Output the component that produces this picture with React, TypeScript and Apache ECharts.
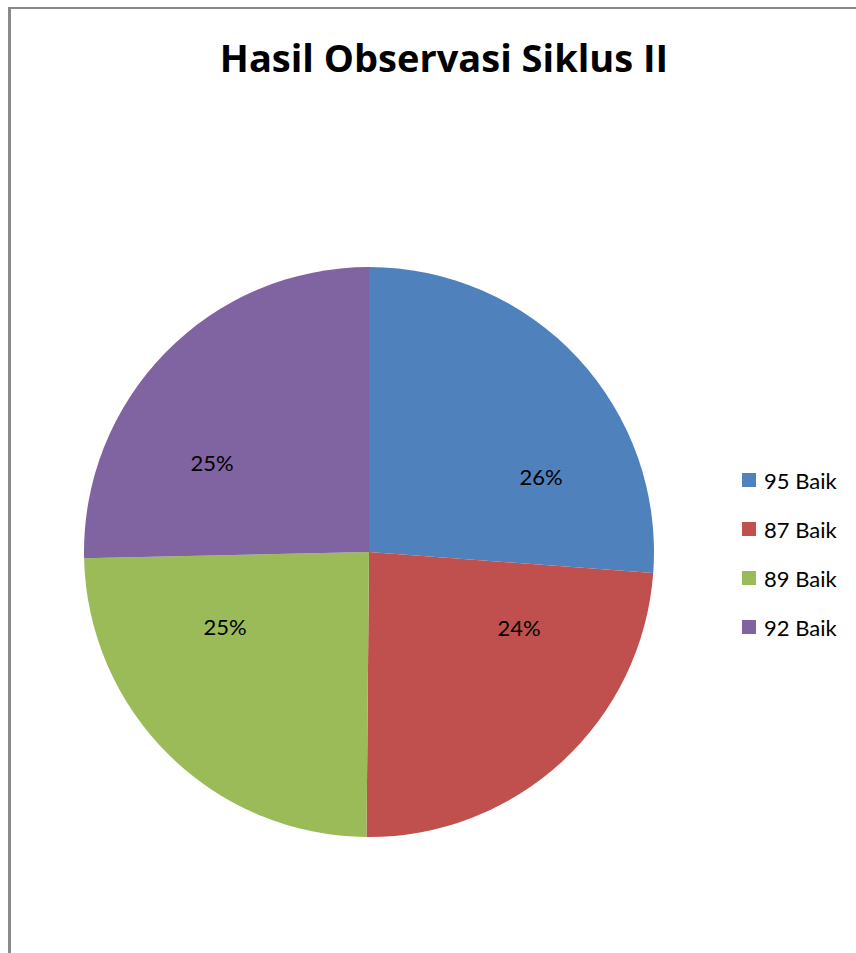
import React, { useEffect, useRef } from "react";
import * as echarts from "echarts";

const categories = ["95 Baik", "87 Baik", "89 Baik", "92 Baik"];
const values = [95, 87, 89, 92];
const colors = ["#4F81BD", "#C0504D", "#9BBB59", "#8064A2"];

// label anchor offsets from the pie centre (layout only)
const CENTER = [369, 552];
const RADIUS = 285;
const LABEL_OFFSETS = [
  [172, -76],
  [150, 75],
  [-144, 74],
  [-157, -90],
];

export default function App() {
  const ref = useRef<HTMLDivElement>(null);
  useEffect(() => {
    if (!ref.current) return;
    const chart = echarts.init(ref.current, undefined, { renderer: "svg" });
    chart.setOption({
      animation: false,
      backgroundColor: "transparent",
      title: {
        text: "Hasil Observasi Siklus II",
        left: 439,
        textAlign: "center",
        top: 33,
        textStyle: {
          fontFamily: "Open Sans",
          fontWeight: "bold",
          fontSize: 38,
          color: "#000",
        },
      },
      legend: {
        orient: "vertical",
        left: 742,
        top: 469,
        padding: 0,
        icon: "rect",
        itemWidth: 14,
        itemHeight: 14,
        itemGap: 27,
        data: categories,
        textStyle: {
          fontFamily: "Lato",
          fontSize: 22,
          lineHeight: 22,
          color: "#000",
          padding: [0, 0, 0, 3],
        },
      },
      series: [
        {
          type: "pie",
          center: CENTER,
          radius: RADIUS,
          startAngle: 90,
          clockwise: true,
          avoidLabelOverlap: false,
          data: categories.map((name, i) => ({
            name,
            value: values[i],
            itemStyle: { color: colors[i] },
          })),
          label: {
            show: true,
            position: "inside",
            formatter: (p: any) => Math.round(p.percent) + "%",
            fontFamily: "Lato",
            fontSize: 22,
            color: "#000",
          },
          labelLine: { show: false },
          labelLayout: (p: any) => ({
            x: CENTER[0] + LABEL_OFFSETS[p.dataIndex][0],
            y: CENTER[1] + LABEL_OFFSETS[p.dataIndex][1],
            align: "center",
            verticalAlign: "middle",
          }),
          emphasis: { disabled: true },
        },
      ],
    });
    return () => chart.dispose();
  }, []);
  return (
    <div style={{ position: "fixed", left: 0, top: 0, width: 856, height: 953, background: "#fff" }}>
      <div
        style={{
          position: "absolute",
          left: 8,
          top: 7,
          width: 848,
          height: 946,
          borderLeft: "3px solid #8a8a8a",
          borderTop: "2px solid #8a8a8a",
          boxSizing: "border-box",
        }}
      />
      <div ref={ref} style={{ position: "absolute", left: 0, top: 0, width: 856, height: 953 }} />
    </div>
  );
}
